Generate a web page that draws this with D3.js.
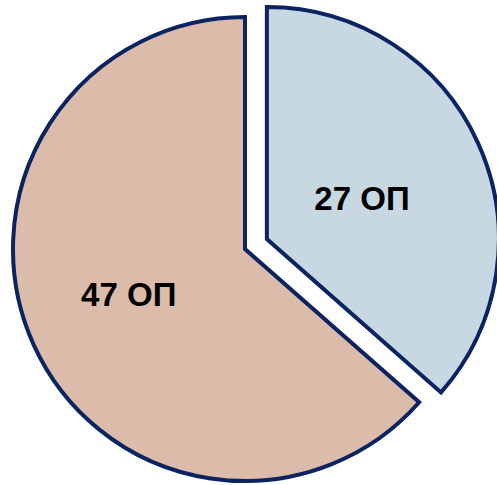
<!DOCTYPE html>
<html>
<head>
<meta charset="utf-8">
<script src="https://cdn.jsdelivr.net/npm/d3@7"></script>
<style>
  body { margin: 0; background: #fff; }
</style>
</head>
<body>
<svg id="canvas"></svg>
<script>
// data
var labels = ['27 ОП', '47 ОП'];
var values = [27, 47];
var colors = ['#c8d8e2', '#dbbcab'];

var width = 497, height = 485;
var cx = 245, cy = 249, radius = 232;
var explode = [24, 0];
var labelFactor = [0.45, 0.55];
var labelShiftY = [2, -7];

var svg = d3.select('#canvas')
    .attr('width', width)
    .attr('height', height);

var pie = d3.pie().sort(null).value(function (d) { return d; });
var arcs = pie(values);

var arc = d3.arc().innerRadius(0).outerRadius(radius);

var g = svg.append('g')
    .attr('transform', 'translate(' + cx + ',' + cy + ')');

var slice = g.selectAll('g.slice')
    .data(arcs)
    .enter()
    .append('g')
    .attr('class', 'slice')
    .attr('transform', function (d, i) {
        var mid = (d.startAngle + d.endAngle) / 2;
        return 'translate(' + (Math.sin(mid) * explode[i]) + ',' + (-Math.cos(mid) * explode[i]) + ')';
    });

slice.append('path')
    .attr('d', arc)
    .attr('fill', function (d, i) { return colors[i]; })
    .attr('stroke', '#0b2461')
    .attr('stroke-width', 4)
    .attr('stroke-linejoin', 'miter');

slice.append('text')
    .attr('x', function (d, i) {
        var mid = (d.startAngle + d.endAngle) / 2;
        return Math.sin(mid) * radius * labelFactor[i];
    })
    .attr('y', function (d, i) {
        var mid = (d.startAngle + d.endAngle) / 2;
        return -Math.cos(mid) * radius * labelFactor[i] + labelShiftY[i];
    })
    .attr('dy', '0.35em')
    .attr('text-anchor', 'middle')
    .attr('font-family', 'Liberation Sans, Arial, sans-serif')
    .attr('font-weight', 'bold')
    .attr('font-size', 33)
    .attr('fill', '#000')
    .text(function (d, i) { return labels[i]; });
</script>
</body>
</html>
